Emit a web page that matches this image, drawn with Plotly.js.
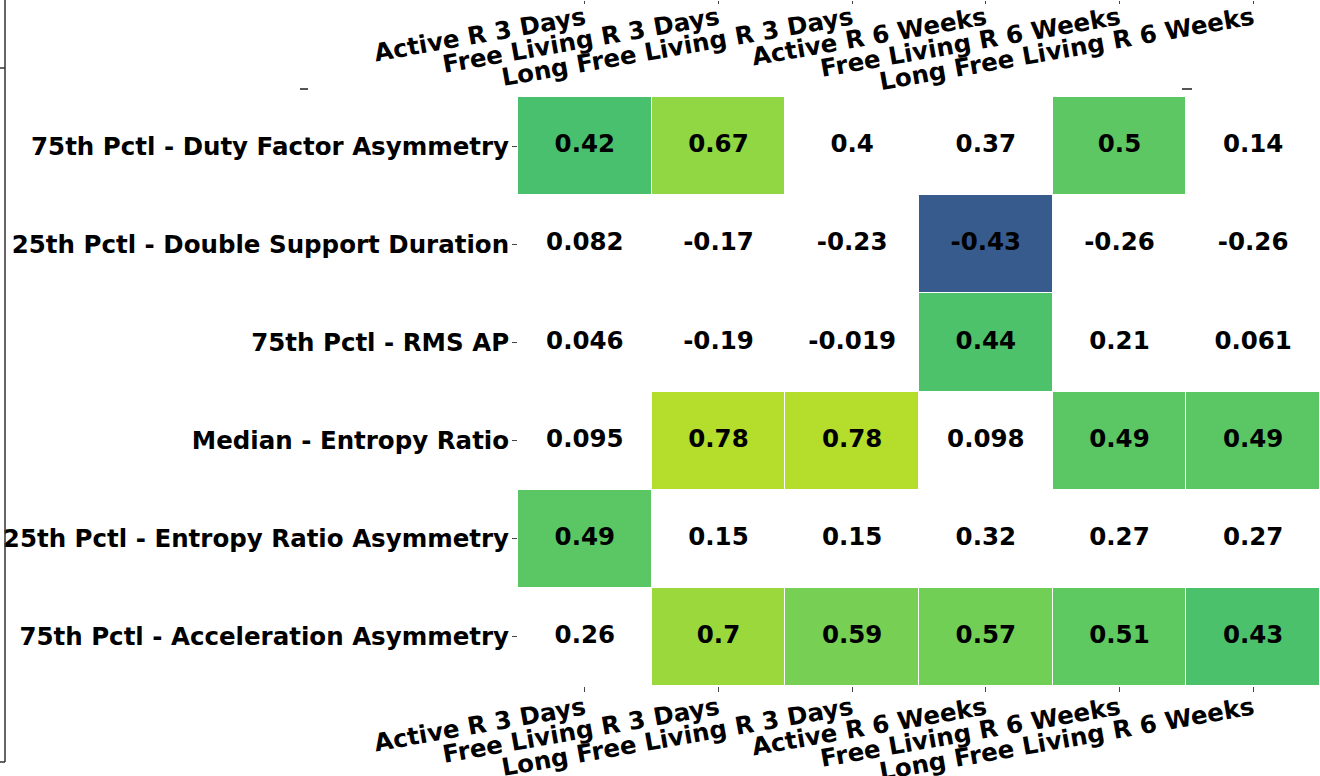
<!DOCTYPE html>
<html>
<head>
<meta charset="utf-8">
<script src="https://cdn.plot.ly/plotly-3.0.1.min.js"></script>
<style>html,body{margin:0;padding:0;background:#fff;}#chart{width:1320px;height:776px;}</style>
</head>
<body>
<div id="chart"></div>
<script>
const colLabels = ["Active R 3 Days", "Free Living R 3 Days", "Long Free Living R 3 Days", "Active R 6 Weeks", "Free Living R 6 Weeks", "Long Free Living R 6 Weeks"];
const rowLabels = ["75th Pctl - Duty Factor Asymmetry", "25th Pctl - Double Support Duration", "75th Pctl - RMS AP", "Median - Entropy Ratio", "25th Pctl - Entropy Ratio Asymmetry", "75th Pctl - Acceleration Asymmetry"];
const row1 = [0.42, 0.67, 0.4, 0.37, 0.5, 0.14];
const row2 = [0.082, -0.17, -0.23, -0.43, -0.26, -0.26];
const row3 = [0.046, -0.19, -0.019, 0.44, 0.21, 0.061];
const row4 = [0.095, 0.78, 0.78, 0.098, 0.49, 0.49];
const row5 = [0.49, 0.15, 0.15, 0.32, 0.27, 0.27];
const row6 = [0.26, 0.7, 0.59, 0.57, 0.51, 0.43];
const threshold = 0.4;

const rows = [row1, row2, row3, row4, row5, row6];
const zMasked = rows.map(r => r.map(v => Math.abs(v) > threshold ? v : null));

const W = 1320, H = 776, ML = 518, MR = 0, MT = 0, MB = 90;
const PW = W - ML - MR, PH = H - MT - MB;
const px = x => (x - ML) / PW;
const py = y => (PH + MT - y) / PH;

const font = {family: "DejaVu Sans, sans-serif", size: 24.5, color: "#000", weight: "bold"};

const tx = [], ty = [], tt = [];
rows.forEach((r, i) => r.forEach((v, j) => { tx.push(colLabels[j]); ty.push(rowLabels[i]); tt.push(String(v)); }));

const traces = [
  {type: "heatmap", x: colLabels, y: rowLabels, z: zMasked, colorscale: "Viridis", zmin: -1, zmax: 1,
   showscale: false, xgap: 1, ygap: 1, hoverinfo: "skip"},
  {type: "scatter", mode: "text", x: tx, y: ty, text: tt, textfont: font, hoverinfo: "skip", showlegend: false},
  {type: "scatter", mode: "markers", x: colLabels, y: colLabels.map(() => rowLabels[0]), xaxis: "x2", yaxis: "y",
   marker: {opacity: 0}, hoverinfo: "skip", showlegend: false}
];

const frameColor = "#333";
const layout = {
  width: W, height: H,
  margin: {l: ML, r: MR, t: MT, b: MB, pad: 0},
  paper_bgcolor: "#fff", plot_bgcolor: "#fff",
  showlegend: false,
  xaxis: {type: "category", range: [-0.5, 5.5], showgrid: false, zeroline: false, showline: false,
    ticks: "outside", ticklen: 5, tickwidth: 1, tickcolor: "#444", tickangle: -10, tickfont: font, anchor: "y",
    ticklabelstandoff: -7},
  xaxis2: {type: "category", range: [-0.5, 5.5], overlaying: "x", anchor: "free", position: 1, side: "bottom",
    showgrid: false, zeroline: false, showline: false, ticks: "outside", ticklen: 3, tickwidth: 1, tickcolor: "#444",
    tickangle: -10, tickfont: font, ticklabelstandoff: -9},
  yaxis: {type: "category", domain: [0, py(97)], autorange: "reversed", showgrid: false, zeroline: false, showline: false,
    ticks: "outside", ticklen: 5, tickwidth: 1, tickcolor: "#444", tickfont: font, ticklabelstandoff: -2},
  shapes: [
    {type: "line", xref: "paper", yref: "paper", x0: px(5), x1: px(5), y0: py(0), y1: py(762), line: {color: frameColor, width: 1.5}},
    {type: "line", xref: "paper", yref: "paper", x0: px(0), x1: px(5), y0: py(68), y1: py(68), line: {color: frameColor, width: 1.5}},
    {type: "line", xref: "paper", yref: "paper", x0: px(0), x1: px(5), y0: py(762), y1: py(762), line: {color: frameColor, width: 1.5}},
    {type: "line", xref: "paper", yref: "paper", x0: px(300), x1: px(308), y0: py(89), y1: py(89), line: {color: "#555", width: 2}},
    {type: "line", xref: "paper", yref: "paper", x0: px(1182), x1: px(1192), y0: py(89), y1: py(89), line: {color: "#555", width: 2}}
  ]
};

Plotly.newPlot("chart", traces, layout, {displayModeBar: false, staticPlot: true});
</script>
</body>
</html>
